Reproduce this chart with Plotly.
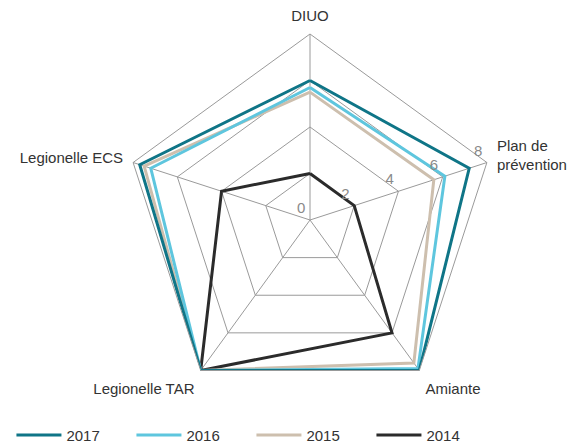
import plotly.graph_objects as go

categories = ["DIUO", "Plan de<br>prévention", "Amiante", "Legionelle TAR", "Legionelle ECS"]
years = ["2014", "2015", "2016", "2017"]
values_2014 = [2.0, 2.0, 6.0, 8.0, 4.0]
values_2015 = [5.5, 5.6, 7.6, 8.0, 7.5]
values_2016 = [5.7, 6.1, 7.9, 8.0, 7.2]
values_2017 = [6.0, 7.2, 8.0, 8.0, 7.7]
series = [values_2014, values_2015, values_2016, values_2017]
colors = ["#2b2b2b", "#cdbfae", "#5ec6de", "#0f7587"]
radial_ticks = [0, 2, 4, 6, 8]
radial_labels = ["\u00a0\u00a0\u00a0" + str(t) for t in radial_ticks]

fig = go.Figure()
for name, vals, col in zip(years, series, colors):
    fig.add_trace(go.Scatterpolar(
        r=vals + vals[:1],
        theta=categories + categories[:1],
        mode="lines",
        name=name,
        line=dict(color=col, width=3),
    ))

W, H = 572, 443
cx, cy, rad = 310, 220, 186
fig.update_layout(
    width=W, height=H,
    margin=dict(l=0, r=0, t=0, b=0, autoexpand=False),
    paper_bgcolor="white",
    font=dict(family="Liberation Sans, Arial, sans-serif", size=15, color="#333333"),
    polar=dict(
        domain=dict(x=[(cx - rad) / W, (cx + rad) / W],
                    y=[(H - cy - rad) / H, (H - cy + rad) / H]),
        gridshape="linear",
        bgcolor="white",
        angularaxis=dict(
            direction="clockwise", rotation=90,
            showgrid=True, gridcolor="#9a9a9a", gridwidth=1,
            showline=True, linecolor="#9a9a9a", linewidth=1,
            ticks="outside", ticklen=7, tickcolor="rgba(0,0,0,0)",
            tickfont=dict(size=15, color="#333333"),
        ),
        radialaxis=dict(
            range=[0, 8], tickvals=radial_ticks, ticktext=radial_labels,
            angle=18, tickangle=18,
            side="counterclockwise",
            showgrid=True, gridcolor="#9a9a9a", gridwidth=1,
            showline=False,
            ticks="outside", ticklen=1, tickcolor="rgba(0,0,0,0)",
            tickfont=dict(size=15, color="#8a8a8a"),
        ),
    ),
    legend=dict(
        orientation="h", traceorder="reversed",
        x=0.02, xanchor="left", y=-0.02, yanchor="bottom",
        itemwidth=45, entrywidth=60, entrywidthmode="pixels",
        font=dict(size=15, color="#333333"),
    ),
)

fig.write_html("out.html")
